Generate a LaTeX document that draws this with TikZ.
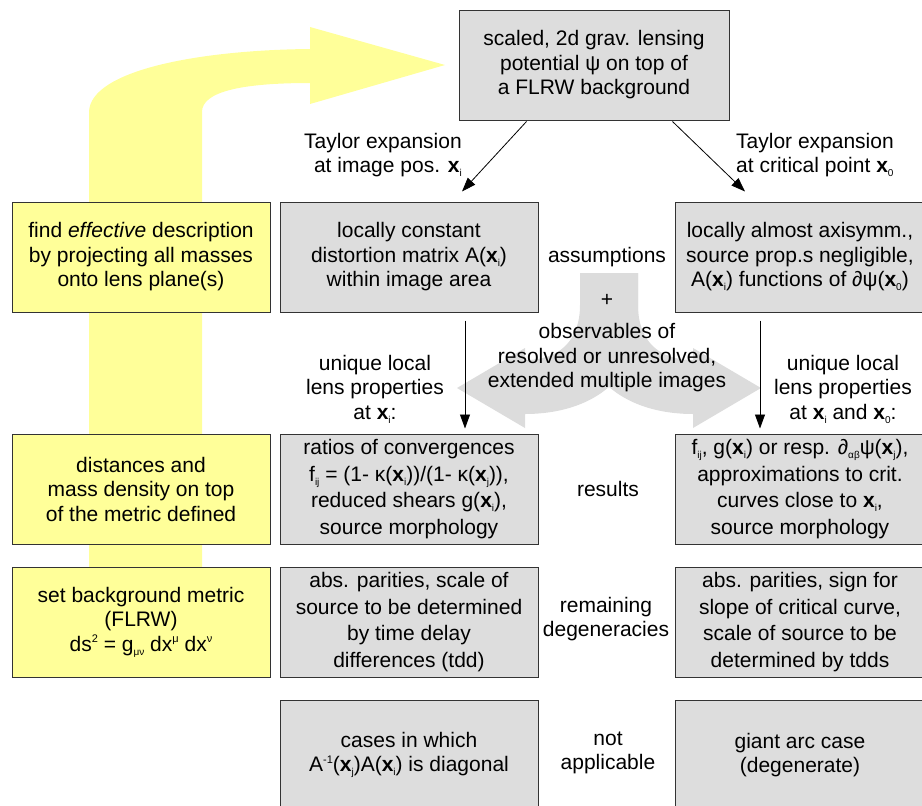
\documentclass[tikz,border=0pt]{standalone}
\usepackage{fontspec}
\setmainfont{Liberation Sans}
\usetikzlibrary{arrows.meta,calc}
\definecolor{ylw}{RGB}{255,255,153}
\definecolor{gbox}{RGB}{221,221,221}
\definecolor{garrow}{RGB}{220,220,220}
\newcommand\lo[1]{\raisebox{-0.35ex}{\fontsize{10}{10}\selectfont #1}}
\newcommand\hi[1]{\raisebox{0.75ex}{\fontsize{11}{11}\selectfont #1}}
\newcommand\xv[1]{\textbf{x}\lo{#1}}
\begin{document}
\begin{tikzpicture}[x=1pt,y=-1pt,
  box/.style={draw=black!80, line width=1pt, fill=gbox, minimum width=258pt,
    minimum height=110pt, align=center, inner sep=0pt, font=\fontsize{21}{24.5}\selectfont},
  box4/.style={box, font=\fontsize{21}{26.5}\selectfont},
  ybox/.style={box, fill=ylw},
  lbl/.style={align=center, inner sep=0pt, font=\fontsize{21}{24.5}\selectfont},
  arr/.style={-{Triangle[length=14pt,width=10pt]}, line width=0.8pt}]
\useasboundingbox (0,0) rectangle (922,806);
% yellow arrow
\fill[ylw] (89,620) -- (89,112) .. controls (90,70) and (200,50) .. (310,49)
  -- (310,27) -- (445,65) -- (310,104) -- (310,83)
  .. controls (240,83) and (202,92) .. (202,112) -- (202,620) -- cycle;
% grey split arrow
\fill[garrow] (580,273) -- (580,305) .. controls (580,340) and (560,360) .. (525,360)
  -- (525,348) -- (457,388) -- (525,428) -- (525,414)
  .. controls (590,414) and (638,380) .. (638,320) -- (638,273) -- cycle;
\fill[garrow] (638,273) -- (638,305) .. controls (638,340) and (658,360) .. (693,360)
  -- (693,348) -- (761,388) -- (693,428) -- (693,414)
  .. controls (628,414) and (580,380) .. (580,320) -- (580,273) -- cycle;
% boxes
\node[box, minimum width=270pt] (top) at (594,65) {scaled, 2d grav. lensing\\potential ψ on top of\\a FLRW background};
\node[ybox] (L1) at (141,257) {find \textit{effective} description\\by projecting all masses\\onto lens plane(s)};
\node[ybox] (L2) at (141,489) {distances and\\mass density on top\\of the metric defined};
\node[ybox] (L3) at (141,622) {set background metric\\(FLRW)\\ds\hi{2} = g\lo{μν} dx\hi{μ} dx\hi{ν}};
\node[box] (A) at (409,257) {locally constant\\distortion matrix A(\xv{i})\\within image area};
\node[box4] (B) at (409,489) {ratios of convergences\\f\lo{ij} = (1- κ(\xv{i}))/(1- κ(\xv{j})),\\reduced shears g(\xv{i}),\\source morphology};
\node[box4] (C) at (409,622) {abs. parities, scale of\\source to be determined\\by time delay\\differences (tdd)};
\node[box] (D) at (409,755) {cases in which\\A\hi{-1}(\xv{j})A(\xv{i}) is diagonal};
\node[box, minimum width=250pt] (R1) at (800,257) {locally almost axisymm.,\\source prop.s negligible,\\A(\xv{i}) functions of ∂ψ(\xv{0})};
\node[box4, minimum width=250pt] (R2) at (800,489) {f\lo{ij}, g(\xv{i}) or resp. ∂\lo{αβ}ψ(\xv{j}),\\approximations to crit.\\curves close to \xv{i},\\source morphology};
\node[box4, minimum width=250pt] (R3) at (800,622) {abs. parities, sign for\\slope of critical curve,\\scale of source to be\\determined by tdds};
\node[box, minimum width=250pt] (R4) at (800,755) {giant arc case\\(degenerate)};
% labels
\node[lbl, anchor=east, align=right] (tl) at (462,155) {Taylor expansion\\at image pos. \xv{i}};
\node[lbl, anchor=west, align=left] (tr) at (736,155) {Taylor expansion\\at critical point \xv{0}};
\node[lbl] (as) at (607,257) {assumptions};
\node[lbl] (plus) at (607,300) {+};
\node[lbl] (obs) at (607,358) {observables of\\resolved or unresolved,\\extended multiple images};
\node[lbl] (u1) at (375,389) {unique local\\lens properties\\at \xv{i}:};
\node[lbl] (u2) at (843,389) {unique local\\lens properties\\at \xv{i} and \xv{0}:};
\node[lbl] (res) at (608,489) {results};
\node[lbl] (rem) at (606,619) {remaining\\degeneracies};
\node[lbl] (na) at (608,753) {not\\applicable};
% arrows
\draw[arr] ($(top.south west)+(68,1)$) -- ($(A.north)+(53,-10)$);
\draw[arr] ($(top.south east)+(-57,1)$) -- ($(R1.north)+(-55,-10)$);
\draw[arr] ($(A.south)+(56,8)$) -- ($(B.north)+(56,-5)$);
\draw[arr] ($(R1.south)+(-40,8)$) -- ($(R2.north)+(-40,-5)$);
\end{tikzpicture}
\end{document}
